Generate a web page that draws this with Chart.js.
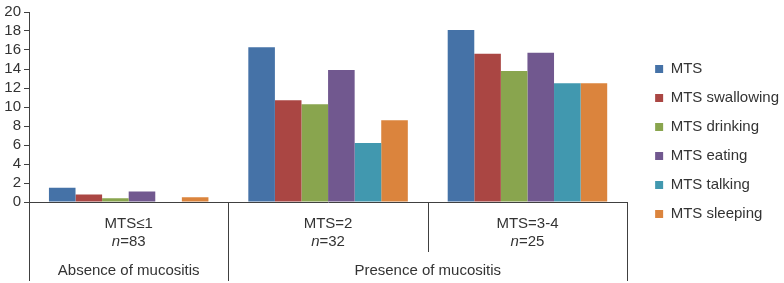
<!DOCTYPE html>
<html>
<head>
<meta charset="utf-8">
<script src="https://cdn.jsdelivr.net/npm/chart.js@4/dist/chart.umd.min.js"></script>
<style>
  html, body { margin: 0; padding: 0; background: #fff; }
  #wrap { width: 784px; height: 283px; }
</style>
</head>
<body>
<div id="wrap"><canvas id="chart"></canvas></div>
<script>
// categories and their sample sizes
const categories = ['MTS≤1', 'MTS=2', 'MTS=3-4'];
const sampleSizes = ['83', '32', '25'];
// second level grouping of the categories
const groupLabels = ['Absence of mucositis', 'Presence of mucositis'];
const groupSpans = [1, 2];

// series values
const seriesNames = ['MTS', 'MTS swallowing', 'MTS drinking', 'MTS eating', 'MTS talking', 'MTS sleeping'];
const mts = [1.5, 16.3, 18.1];
const mtsSwallowing = [0.8, 10.7, 15.6];
const mtsDrinking = [0.4, 10.3, 13.8];
const mtsEating = [1.1, 13.9, 15.7];
const mtsTalking = [0, 6.2, 12.5];
const mtsSleeping = [0.5, 8.6, 12.5];

const seriesColors = ['#4572A7', '#AA4643', '#89A54E', '#71588F', '#4198AF', '#DB843D'];
const seriesValues = [mts, mtsSwallowing, mtsDrinking, mtsEating, mtsTalking, mtsSleeping];

const FONT = 'Liberation Sans, Arial, sans-serif';
const TEXT = '#333333';
const LINE = '#404040';

// draws the two-level category axis below the plot
const multiLevelAxis = {
    id: 'multiLevelAxis',
    afterDraw(chart) {
        const { ctx, chartArea } = chart;
        const x = chart.scales.x;
        const bottom = chartArea.bottom;
        const n = categories.length;

        // boundaries between categories
        const bounds = [chartArea.left];
        for (let i = 0; i < n - 1; i++) {
            bounds.push((x.getPixelForValue(i) + x.getPixelForValue(i + 1)) / 2);
        }
        bounds.push(chartArea.right);

        // which boundaries are group edges
        const groupEdges = [0];
        let acc = 0;
        groupSpans.forEach(s => { acc += s; groupEdges.push(acc); });

        ctx.save();
        ctx.strokeStyle = LINE;
        ctx.lineWidth = 1;
        bounds.forEach((bx, i) => {
            const full = groupEdges.includes(i);
            const px = Math.round(bx) + 0.5;
            ctx.beginPath();
            ctx.moveTo(px, bottom);
            ctx.lineTo(px, full ? bottom + 79 : bottom + 50);
            ctx.stroke();
        });

        ctx.fillStyle = TEXT;
        ctx.textBaseline = 'middle';
        ctx.textAlign = 'left';
        categories.forEach((label, i) => {
            const cx = x.getPixelForValue(i);
            ctx.font = '15px ' + FONT;
            const w1 = ctx.measureText(label).width;
            ctx.fillText(label, cx - w1 / 2, bottom + 22);

            ctx.font = 'italic 15px ' + FONT;
            const wn = ctx.measureText('n').width;
            ctx.font = '15px ' + FONT;
            const rest = '=' + sampleSizes[i];
            const wr = ctx.measureText(rest).width;
            const start = cx - (wn + wr) / 2;
            ctx.font = 'italic 15px ' + FONT;
            ctx.fillText('n', start, bottom + 40);
            ctx.font = '15px ' + FONT;
            ctx.fillText(rest, start + wn, bottom + 40);
        });

        ctx.textAlign = 'center';
        groupLabels.forEach((label, g) => {
            const a = bounds[groupEdges[g]];
            const b = bounds[groupEdges[g + 1]];
            ctx.fillText(label, (a + b) / 2, bottom + 69);
        });
        ctx.restore();
    }
};

new Chart(document.getElementById('chart'), {
    type: 'bar',
    data: {
        labels: categories,
        datasets: seriesNames.map((name, i) => ({
            label: name,
            data: seriesValues[i],
            backgroundColor: seriesColors[i],
            borderWidth: 0,
            categoryPercentage: 0.8,
            barPercentage: 1.0
        }))
    },
    options: {
        responsive: true,
        maintainAspectRatio: false,
        animation: false,
        layout: {
            padding: { left: 0, right: -5, top: 0, bottom: 0 }
        },
        scales: {
            x: {
                grid: { display: false },
                border: { display: true, color: LINE, width: 1 },
                ticks: { display: false },
                afterFit(scale) { scale.height = 81; }
            },
            y: {
                min: 0,
                max: 20,
                ticks: {
                    stepSize: 2,
                    autoSkip: false,
                    color: TEXT,
                    padding: 3,
                    font: { family: FONT, size: 15 }
                },
                grid: {
                    drawOnChartArea: false,
                    drawTicks: true,
                    tickLength: 5,
                    color: LINE
                },
                border: { display: true, color: LINE, width: 1 },
                afterFit(scale) { scale.width = 29; }
            },
            gap: {
                // empty space between the plot and the legend
                position: 'right',
                display: true,
                grid: { display: false },
                border: { display: false },
                ticks: { display: false },
                afterFit(scale) { scale.width = 14; }
            }
        },
        plugins: {
            legend: {
                position: 'right',
                maxWidth: 200,
                labels: {
                    boxWidth: 8,
                    boxHeight: 8,
                    padding: 14,
                    color: TEXT,
                    font: { family: FONT, size: 15 }
                }
            },
            tooltip: { enabled: false }
        }
    },
    plugins: [multiLevelAxis]
});
</script>
</body>
</html>
